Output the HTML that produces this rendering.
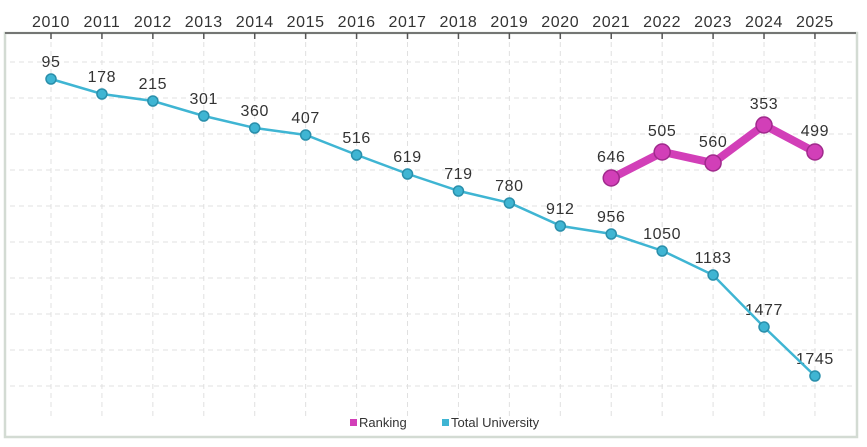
<!DOCTYPE html><html><head><style>body{margin:0;background:#fff}svg{display:block}</style></head><body>
<svg width="867" height="447" xmlns="http://www.w3.org/2000/svg" font-family="Liberation Sans, sans-serif">
<rect x="5" y="33" width="852" height="404" fill="none" stroke="#d3dbd3" stroke-width="2.5"/>
<g stroke="#e0e0e0" stroke-dasharray="5,4" stroke-width="1">
<line x1="10" x2="855" y1="62" y2="62"/><line x1="10" x2="855" y1="98" y2="98"/><line x1="10" x2="855" y1="134" y2="134"/><line x1="10" x2="855" y1="170" y2="170"/><line x1="10" x2="855" y1="206" y2="206"/><line x1="10" x2="855" y1="242" y2="242"/><line x1="10" x2="855" y1="278" y2="278"/><line x1="10" x2="855" y1="314" y2="314"/><line x1="10" x2="855" y1="350" y2="350"/><line x1="10" x2="855" y1="386" y2="386"/>
</g>
<g id="v" stroke="#e0e0e0" stroke-dasharray="5,4"></g>
<line x1="5" x2="856" y1="33" y2="33" stroke="#555" stroke-width="1.5"/>
<g id="t" fill="#333" font-size="16" letter-spacing="0.6" text-anchor="middle"></g>
<polyline fill="none" stroke="#3fb5d3" stroke-width="2.5" points="51,79 102,94 153,101 204,116 255,128 306,135 357,155 408,174 459,191 510,203 561,226 612,234 663,251 713,275 764,327 815,376"/>
<polyline fill="none" stroke="#d23fb8" stroke-width="8" stroke-linejoin="round" points="612,178 663,152 713,163 764,125 815,152"/>
<g id="p"></g>
<rect x="350" y="419" width="7" height="7" fill="#d23fb8"/><text x="359" y="427" font-size="13" fill="#333">Ranking</text>
<rect x="442" y="419" width="7" height="7" fill="#3fb5d3"/><text x="451" y="427" font-size="13" fill="#333">Total University</text>
<script>
var ns="http://www.w3.org/2000/svg";
function el(n,a,p,t){var e=document.createElementNS(ns,n);for(var k in a)e.setAttribute(k,a[k]);if(t)e.textContent=t;document.getElementById(p).appendChild(e);}
var xs=[],teal=[79,94,101,116,128,135,155,174,191,203,226,234,251,275,327,376],tl=[95,178,215,301,360,407,516,619,719,780,912,956,1050,1183,1477,1745];
for(var i=0;i<16;i++){var x=51+i*50.93;xs.push(x);
el('line',{x1:x,x2:x,y1:33,y2:416},'v');
el('line',{x1:x,x2:x,y1:33,y2:39,stroke:'#555','stroke-dasharray':'none','stroke-width':1.5},'v');
el('text',{x:x,y:27},'t',String(2010+i));
el('text',{x:x,y:teal[i]-12},'t',String(tl[i]));
el('circle',{cx:x,cy:teal[i],r:5,fill:'#3fb5d3',stroke:'#2a8fab','stroke-width':1.5},'p');}
var m=[178,152,163,125,152],ml=[646,505,560,353,499];
for(var j=0;j<5;j++){var x=xs[11+j];el('circle',{cx:x,cy:m[j],r:8,fill:'#d23fb8',stroke:'#a02a8c','stroke-width':1.5},'p');el('text',{x:x,y:m[j]-16},'t',String(ml[j]));}
</script>
</svg></body></html>
